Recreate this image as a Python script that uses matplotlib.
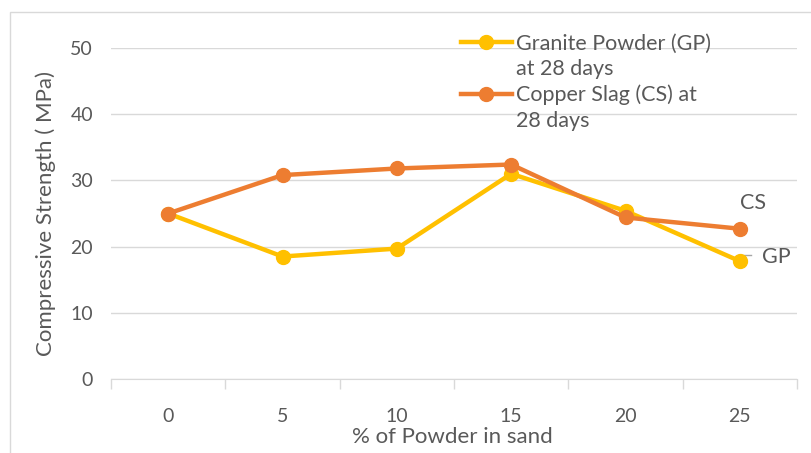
import matplotlib.pyplot as plt
from matplotlib.lines import Line2D
from matplotlib.patches import Rectangle

plt.rcParams['font.family'] = ['Lato', 'DejaVu Sans']

powder = [0, 5, 10, 15, 20, 25]
gp_strength = [25.0, 18.5, 19.7, 31.0, 25.4, 17.8]
cs_strength = [25.0, 30.8, 31.8, 32.4, 24.4, 22.7]
yticks = [0, 10, 20, 30, 40, 50]

gp_color = '#FFC000'
cs_color = '#ED7D31'
text_color = '#595959'
grid_color = '#D9D9D9'

fig = plt.figure(figsize=(8.11, 4.53), dpi=100)
# chart area frame
fig.patches.append(Rectangle((10 / 811, -0.1), 1.0, 1 - 12 / 453 + 0.1,
                             transform=fig.transFigure, fill=False,
                             edgecolor=grid_color, linewidth=1))

ax = fig.add_axes([111 / 811, 1 - 379 / 453, (797 - 111) / 811, (379 - 48) / 453])
pos = list(range(len(powder)))
gp_line, = ax.plot(pos, gp_strength, color=gp_color, lw=3.2, marker='o', ms=10, zorder=3)
cs_line, = ax.plot(pos, cs_strength, color=cs_color, lw=3.2, marker='o', ms=10, zorder=4)

ax.set_xlim(-0.5, len(powder) - 0.5)
ax.set_ylim(0, 50)
ax.set_yticks(yticks)
ax.set_xticks(pos)
ax.set_xticklabels([str(p) for p in powder])
ax.set_xticks([p - 0.5 for p in range(len(powder) + 1)], minor=True)
ax.tick_params(axis='x', which='major', length=0, pad=21, labelsize=14, colors=text_color)
ax.tick_params(axis='x', which='minor', length=7, color=grid_color, width=1)
ax.tick_params(axis='y', length=0, pad=13, labelsize=14, colors=text_color)
ax.grid(axis='y', color=grid_color, lw=1)
ax.set_axisbelow(True)
for s in ['top', 'right', 'left']:
    ax.spines[s].set_visible(False)
ax.spines['bottom'].set_color(grid_color)

ax.set_ylabel('Compressive Strength ( MPa)', fontsize=16, color=text_color, labelpad=10)
ax.set_xlabel('% of Powder in sand', fontsize=16, color=text_color)
ax.xaxis.set_label_coords(0.497, -0.175)
ax.xaxis.label.set_va('center')

# legend: handle sits on the first line of each wrapped label
blank = Line2D([], [], linestyle='none')
leg = ax.legend([gp_line, blank, cs_line, blank],
                ['Granite Powder (GP)', 'at 28 days', 'Copper Slag (CS) at', '28 days'],
                loc='upper left', bbox_to_anchor=(0.494, 1.075), frameon=False,
                fontsize=15.5, labelcolor=text_color, handlelength=2.4,
                handletextpad=0.15, labelspacing=0.25, borderpad=0)

ax.text(len(powder) - 1, cs_strength[-1] + 3.9, 'CS', fontsize=15.5,
        color=text_color, ha='left', va='center')
ax.text(len(powder) - 1 + 0.19, gp_strength[-1] + 0.7, 'GP', fontsize=15.5,
        color=text_color, ha='left', va='center')
ax.plot([len(powder) - 1 + 0.02, len(powder) - 1 + 0.02, len(powder) - 1 + 0.1],
        [gp_strength[-1] + 0.3, gp_strength[-1] + 1.0, gp_strength[-1] + 1.0],
        color='#A6A6A6', lw=1, zorder=2)

fig.savefig('out.png', dpi=100)
